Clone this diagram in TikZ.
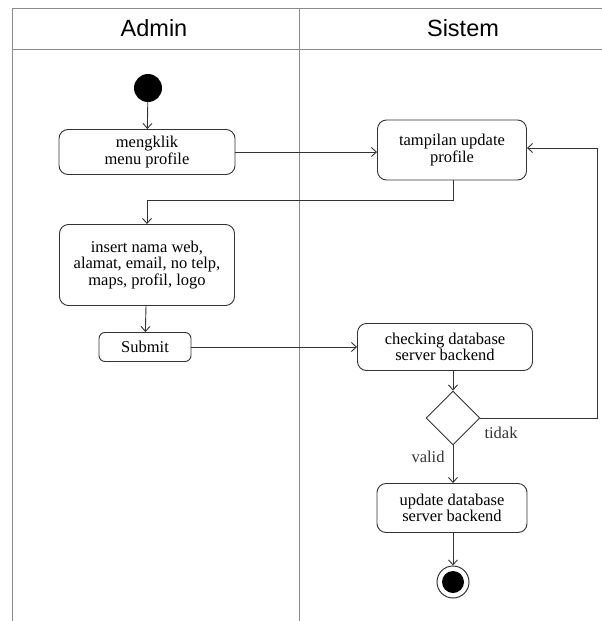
\documentclass[tikz,border=0pt]{standalone}
\usepackage{fontspec}
\setmainfont{Liberation Serif}
\newfontfamily\headfont{Liberation Sans}
\usetikzlibrary{arrows.meta,shapes.geometric}
\definecolor{lane}{HTML}{8A8A8A}
\definecolor{ink}{HTML}{333333}
\tikzset{
  act/.style={draw=ink, line width=0.9pt, rounded corners=9pt, align=center,
    inner sep=0pt, font=\fontsize{16.5}{16.5}\selectfont},
  flow/.style={draw=ink, line width=0.9pt, -{Straight Barb[length=5pt,width=9pt]}},
  lbl/.style={font=\fontsize{16.5}{17}\selectfont, text=ink},
  head/.style={font=\headfont\fontsize{23.5}{26}\selectfont},
  lanes/.style={draw=lane, line width=1pt}
}
\begin{document}
\begin{tikzpicture}[x=1pt,y=-1pt]
\useasboundingbox (0,0) rectangle (602,621);
% swimlane frame
\draw[lanes] (12,621) -- (12,8) -- (602,8);
\draw[lanes] (12,49) -- (602,49);
\draw[lanes] (299,8) -- (299,621);
\node[head] (hadmin) at (154,28) {Admin};
\node[head] (hsys) at (463,28) {Sistem};
% activities
\node[circle, fill=black, minimum size=28pt, inner sep=0pt] (start) at (148,88) {};
\node[act, minimum width=176pt, minimum height=45pt] (klik) at (147,152) {mengklik\\[1pt]menu profile};
\node[act, minimum width=149pt, minimum height=60pt] (tampil) at (452,150) {tampilan update\\[1pt]profile};
\node[act, minimum width=175pt, minimum height=81pt] (insert) at (147,265) {insert nama web,\\alamat, email, no telp,\\maps, profil, logo};
\node[act, rounded corners=6pt, minimum width=92pt, minimum height=29pt] (submit) at (145,347) {Submit};
\node[act, minimum width=175pt, minimum height=47pt] (cek) at (445,347) {checking database\\server backend};
\node[diamond, draw=ink, line width=0.9pt, minimum width=54pt, minimum height=54pt, inner sep=0pt] (dec) at (453,418) {};
\node[act, minimum width=150pt, minimum height=49pt] (upd) at (452,508) {update database\\server backend};
\node[circle, draw=ink, line width=1pt, minimum size=32pt, inner sep=0pt] (stop) at (453,582) {};
\node[circle, fill=black, minimum size=22pt, inner sep=0pt] (stopin) at (stop) {};
% flows
\draw[flow] (start) -- (klik);
\draw[flow] (klik.east) -- (klik.east -| tampil.west);
\coordinate (t1) at (453,200);
\draw[flow] (tampil.south -| t1) -- (t1) -- (t1 -| insert.north) -- (insert.north);
\draw[flow] (insert) -- (submit);
\draw[flow] (submit.east) -- (submit.east -| cek.west);
\draw[flow] (cek.south -| dec.north) -- (dec.north);
\coordinate (loop) at (597,418);
\draw[flow] (dec.east) -- (loop) -- (loop |- 0,148) -- (tampil.east |- 0,148);
\draw[flow] (dec.south) -- (dec.south |- upd.north);
\draw[flow] (upd.south -| stop.north) -- (stop.north);
\node[lbl] (tidak) at (501,433) {tidak};
\node[lbl] (valid) at (428,457) {valid};
\end{tikzpicture}
\end{document}
